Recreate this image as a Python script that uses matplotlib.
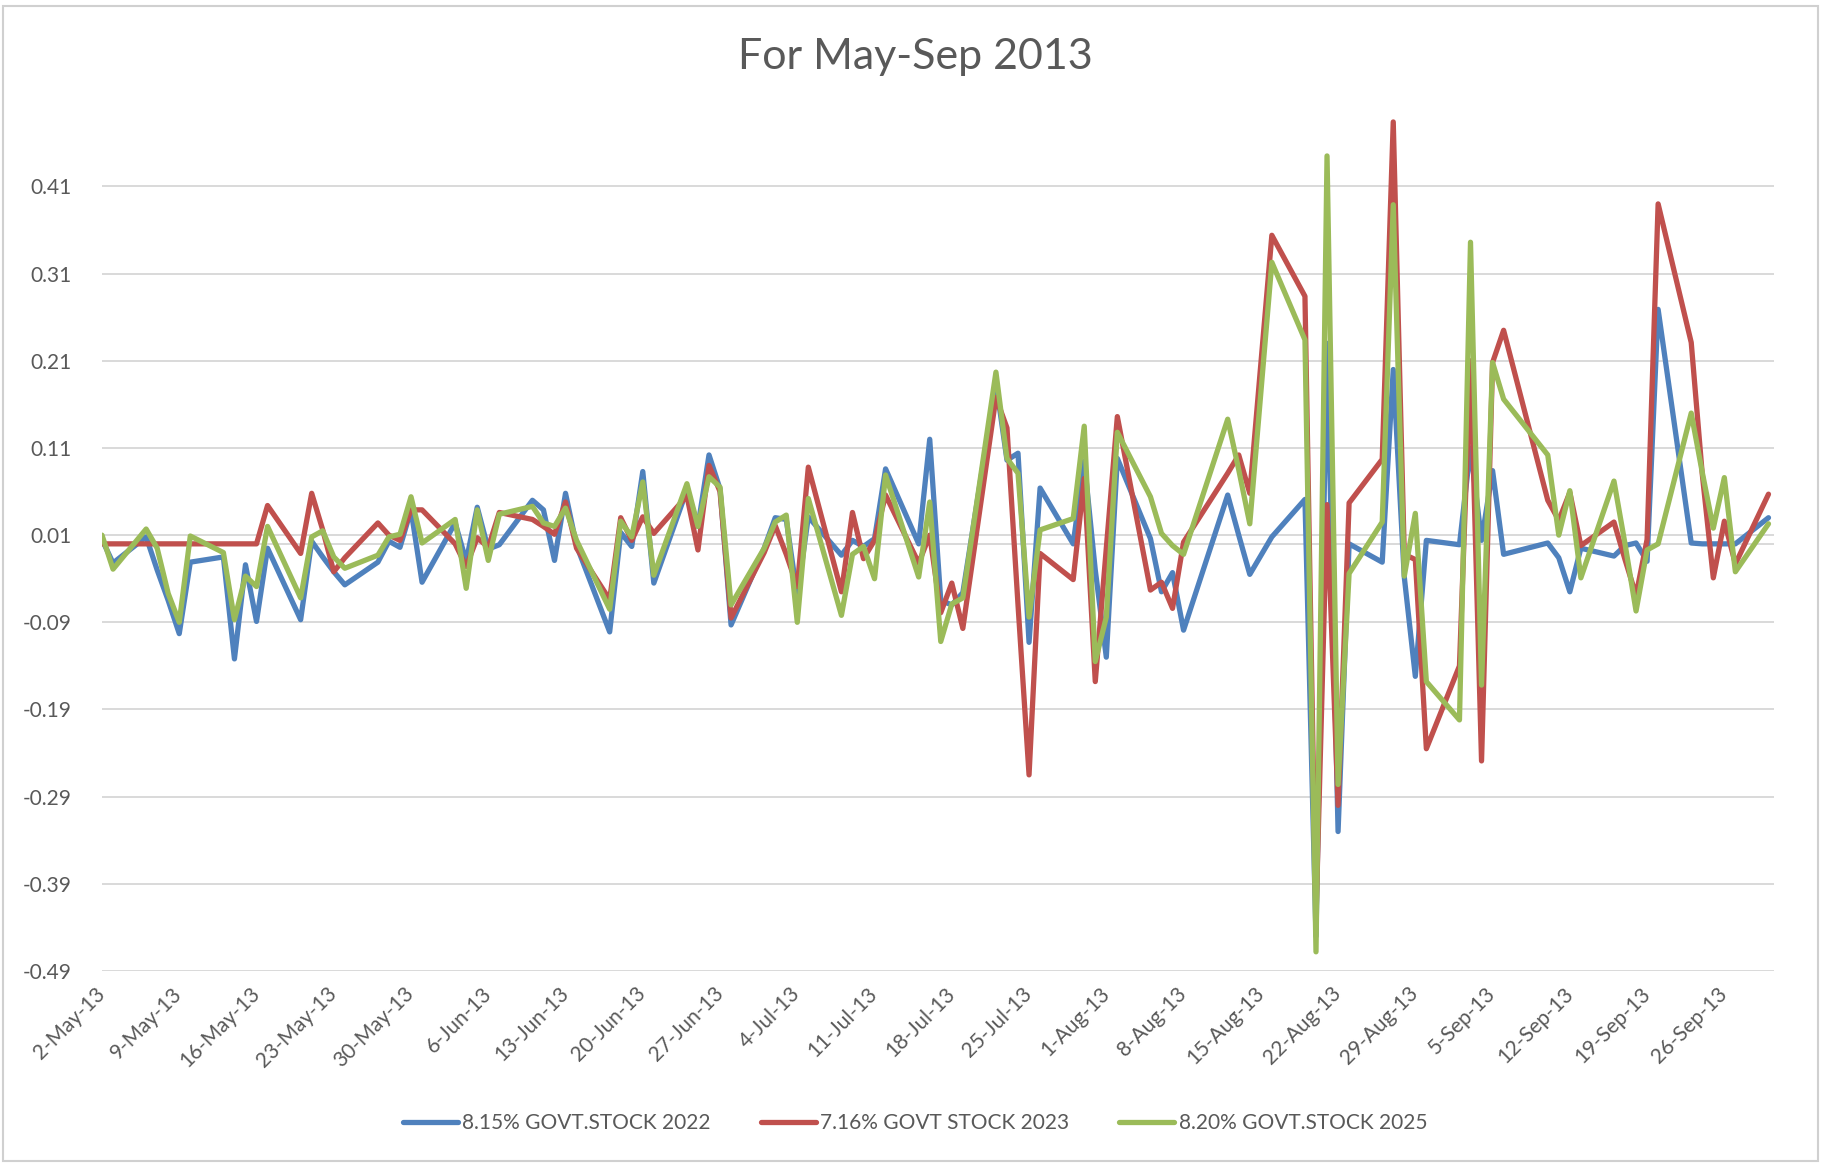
import matplotlib
matplotlib.use('Agg')
import matplotlib.pyplot as plt
from matplotlib.patches import Rectangle
import pandas as pd
import numpy as np

plt.rcParams['font.family'] = ['Lato', 'DejaVu Sans']

# ---------------- data ----------------
holidays = ['2013-08-09', '2013-08-15', '2013-09-09']
trade_dates = pd.bdate_range('2013-05-02', '2013-09-30')
trade_dates = trade_dates[~trade_dates.isin(pd.to_datetime(holidays))]

series_names = ['8.15% GOVT.STOCK 2022', '7.16% GOVT STOCK 2023', '8.20% GOVT.STOCK 2025']

gs2022_may = [0.005, -0.022, 0.008, -0.030, -0.065, -0.103, -0.021, -0.015, -0.132, -0.024, -0.089,
              -0.005, -0.087, 0.003, -0.015, -0.032, -0.047, -0.021, 0.003, -0.004, 0.039, -0.044]
gs2022_jun = [0.024, -0.020, 0.042, -0.006, -0.001, 0.050, 0.039, -0.019, 0.058, -0.002, -0.101,
              0.013, -0.003, 0.083, -0.045, 0.062, 0.020, 0.102, 0.063, -0.093]
gs2022_jul = [-0.005, 0.030, 0.028, -0.060, 0.031, -0.013, 0.004, -0.003, 0.006, 0.086, 0.000, 0.120,
              -0.065, -0.070, -0.056, 0.185, 0.096, 0.104, -0.113, 0.064, 0.000, 0.095, -0.030]
gs2022_aug = [-0.130, 0.098, 0.006, -0.055, -0.033, -0.099, 0.056, 0.010, -0.035, 0.008, 0.051,
              -0.450, 0.230, -0.330, 0.000, -0.021, 0.200, -0.038, -0.152, 0.004]
gs2022_sep = [-0.001, 0.110, 0.004, 0.084, -0.012, 0.001, -0.016, -0.055, -0.005, -0.014, -0.002,
              0.001, -0.020, 0.269, 0.001, 0.000, 0.000, 0.000, 0.000, 0.030]

gs2023_may = [0.000, 0.000, 0.000, 0.000, 0.000, 0.000, 0.000, 0.000, 0.000, 0.000, 0.000,
              0.044, -0.011, 0.058, 0.016, -0.032, -0.016, 0.024, 0.010, 0.004, 0.039, 0.039]
gs2023_jun = [0.000, -0.026, 0.007, -0.004, 0.036, 0.028, 0.020, 0.011, 0.048, -0.005, -0.064,
              0.030, 0.004, 0.031, 0.012, 0.055, -0.007, 0.090, 0.060, -0.085]
gs2023_jul = [-0.010, 0.021, -0.012, -0.049, 0.088, -0.055, 0.036, -0.017, 0.004, 0.056, -0.022, 0.010,
              -0.079, -0.045, -0.097, 0.168, 0.133, -0.070, -0.265, -0.011, -0.041, 0.075, -0.158]
gs2023_aug = [-0.005, 0.146, -0.053, -0.044, -0.074, 0.002, 0.081, 0.102, 0.058, 0.354, 0.284,
              -0.430, 0.045, -0.300, 0.047, 0.097, 0.484, -0.012, -0.018, -0.235]
gs2023_sep = [-0.140, 0.210, -0.249, 0.208, 0.245, 0.050, 0.027, 0.059, -0.002, 0.025, -0.018,
              -0.059, 0.005, 0.390, 0.231, 0.080, -0.039, 0.026, -0.023, 0.057]

gs2025_may = [0.010, -0.029, 0.017, -0.005, -0.057, -0.090, 0.009, -0.010, -0.087, -0.037, -0.049,
              0.020, -0.062, 0.008, 0.015, -0.015, -0.028, -0.013, 0.008, 0.011, 0.054, 0.001]
gs2025_jun = [0.028, -0.051, 0.039, -0.019, 0.034, 0.043, 0.024, 0.020, 0.041, 0.004, -0.075,
              0.026, 0.008, 0.071, -0.036, 0.069, 0.020, 0.077, 0.065, -0.070]
gs2025_jul = [-0.005, 0.025, 0.033, -0.090, 0.052, -0.082, -0.012, -0.003, -0.040, 0.079, -0.038, 0.048,
              -0.112, -0.069, -0.062, 0.197, 0.098, 0.081, -0.084, 0.016, 0.029, 0.135, -0.135]
gs2025_aug = [-0.084, 0.128, 0.054, 0.012, -0.002, -0.012, 0.143, 0.085, 0.023, 0.323, 0.234,
              -0.468, 0.445, -0.276, -0.034, 0.025, 0.389, -0.037, 0.035, -0.158]
gs2025_sep = [-0.202, 0.346, -0.162, 0.208, 0.166, 0.102, 0.010, 0.061, -0.039, 0.072, 0.000,
              -0.077, -0.007, 0.000, 0.150, 0.082, 0.018, 0.076, -0.032, 0.023]

gs2022 = gs2022_may + gs2022_jun + gs2022_jul + gs2022_aug + gs2022_sep
gs2023 = gs2023_may + gs2023_jun + gs2023_jul + gs2023_aug + gs2023_sep
gs2025 = gs2025_may + gs2025_jun + gs2025_jul + gs2025_aug + gs2025_sep

y_ticks = [-0.49, -0.39, -0.29, -0.19, -0.09, 0.01, 0.11, 0.21, 0.31, 0.41]
x_ticks = pd.date_range('2013-05-02', '2013-09-26', freq='7D')
x_tick_labels = [f"{d.day}-{d.strftime('%b-%y')}" for d in x_ticks]

colors = ['#4F81BD', '#C0504D', '#9BBB59']
text_color = '#595959'
grid_color = '#D9D9D9'

# ---------------- figure ----------------
W, H = 1830, 1166
fig = plt.figure(figsize=(W / 100, H / 100), dpi=100)
left, right, top, bottom = 102, 1774, 108, 971
ax = fig.add_axes([left / W, 1 - bottom / H, (right - left) / W, (bottom - top) / H])

for vals, c, name in zip([gs2022, gs2023, gs2025], colors, series_names):
    ax.plot(trade_dates, vals, color=c, lw=3.8, label=name,
            solid_joinstyle='round', solid_capstyle='round', zorder=3)

ax.set_ylim(-0.49, 0.50)
ax.set_xlim(pd.Timestamp('2013-05-02'), pd.Timestamp('2013-05-02') + pd.Timedelta(days=151.5))

ax.set_yticks(y_ticks)
ax.set_yticklabels([f"{v:.2f}" for v in y_ticks])
ax.set_xticks(x_ticks)
ax.set_xticklabels(x_tick_labels, rotation=45, ha='right', va='center', rotation_mode='anchor')

ax.grid(axis='y', color=grid_color, lw=1.4, zorder=0)
ax.axhline(0, color=grid_color, lw=1.4, zorder=1)
ax.grid(axis='x', visible=False)
for s in ax.spines.values():
    s.set_visible(False)
ax.tick_params(axis='y', length=0, pad=22, labelsize=15, labelcolor=text_color)
ax.tick_params(axis='x', length=0, pad=14, labelsize=15, labelcolor=text_color)

fig.text(0.5, 1 - 57 / H, 'For May-Sep 2013', ha='center', va='center',
         fontsize=31, color=text_color)

leg = fig.legend(loc='center', bbox_to_anchor=(0.5, 1 - 1123 / H), ncol=3, frameon=False,
                 fontsize=15, handlelength=2.65, handletextpad=0.2, columnspacing=2.4)
for t in leg.get_texts():
    t.set_color(text_color)

fig.patches.append(Rectangle((3 / W, 1 - 1161 / H), 1815 / W, 1155 / H, transform=fig.transFigure,
                             fill=False, edgecolor='#D0D0D0', lw=1.5))

fig.savefig('out.png', dpi=100)
